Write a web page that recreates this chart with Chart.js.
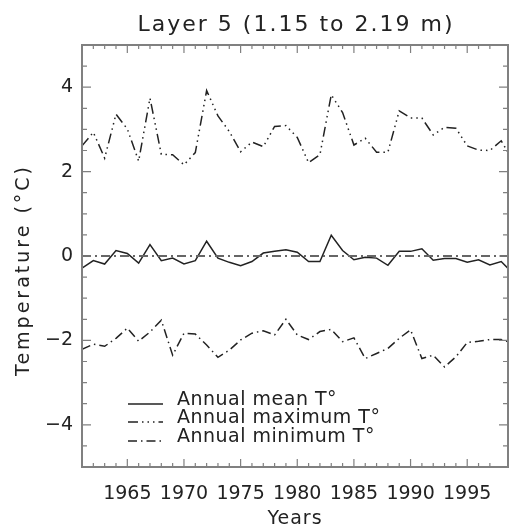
<!DOCTYPE html>
<html>
<head>
<meta charset="utf-8">
<script src="https://cdn.jsdelivr.net/npm/chart.js@4.4.1/dist/chart.umd.min.js"></script>
<style>
  html, body { margin: 0; padding: 0; background: #fff; overflow: hidden; }
</style>
</head>
<body>
<canvas id="layer-chart" width="524" height="531"></canvas>
<script>
// Série anual da camada 5
const years = [1961, 1962, 1963, 1964, 1965, 1966, 1967, 1968, 1969, 1970,
               1971, 1972, 1973, 1974, 1975, 1976, 1977, 1978, 1979, 1980,
               1981, 1982, 1983, 1984, 1985, 1986, 1987, 1988, 1989, 1990,
               1991, 1992, 1993, 1994, 1995, 1996, 1997, 1998, 1999];

const meanT = [-0.29, -0.11, -0.19, 0.13, 0.06, -0.17, 0.27, -0.11, -0.05, -0.19,
               -0.11, 0.35, -0.05, -0.15, -0.23, -0.13, 0.07, 0.11, 0.15, 0.09,
               -0.13, -0.13, 0.49, 0.13, -0.09, -0.03, -0.05, -0.22, 0.11, 0.11,
               0.17, -0.10, -0.06, -0.06, -0.15, -0.09, -0.21, -0.13, -0.40];

const maxT = [2.61, 2.93, 2.32, 3.36, 3.01, 2.25, 3.74, 2.41, 2.40, 2.16,
              2.45, 3.92, 3.32, 2.95, 2.47, 2.70, 2.59, 3.07, 3.09, 2.81,
              2.21, 2.40, 3.82, 3.40, 2.63, 2.79, 2.46, 2.46, 3.44, 3.27,
              3.27, 2.87, 3.05, 3.03, 2.61, 2.51, 2.50, 2.73, 2.27];

const minT = [-2.21, -2.09, -2.14, -1.95, -1.71, -2.02, -1.80, -1.52, -2.35, -1.83,
              -1.85, -2.11, -2.40, -2.23, -1.99, -1.83, -1.77, -1.87, -1.50, -1.87,
              -1.98, -1.79, -1.74, -2.03, -1.94, -2.43, -2.31, -2.19, -1.95, -1.75,
              -2.43, -2.35, -2.63, -2.39, -2.05, -2.02, -1.98, -1.98, -2.06];

const zeroLine = [[1961, 0], [1999, 0]];

const xRange = [1961, 1998.6];
const yRange = [-5, 5];

const FONT = 'DejaVu Sans';
const INK = '#222';
const FRAME = '#808080';

const DASH_MAX = [10, 4, 1.5, 4, 1.5, 4, 1.5, 4];
const DASH_MIN = [9, 4, 1.5, 4];
const DASH_ZERO = [9, 4, 2, 4];

function toPoints(values) {
    return years.map((yr, i) => ({ x: yr, y: values[i] }));
}

function minusLabel(v) {
    return v < 0 ? '\u2212' + Math.abs(v) : String(v);
}

// Moldura com marcas para dentro nos quatro lados
const framePlugin = {
    id: 'frame',
    afterDatasetsDraw(chart) {
        const { ctx, chartArea: a, scales } = chart;
        ctx.save();
        ctx.strokeStyle = FRAME;
        ctx.lineWidth = 2;
        ctx.strokeRect(a.left, a.top, a.right - a.left, a.bottom - a.top);
        ctx.lineWidth = 1.2;
        ctx.beginPath();
        scales.x.ticks.forEach(t => {
            if (!Number.isInteger(t.value)) return;
            const px = scales.x.getPixelForValue(t.value);
            const len = t.value % 5 === 0 ? 8 : 4;
            ctx.moveTo(px, a.bottom); ctx.lineTo(px, a.bottom - len);
            ctx.moveTo(px, a.top); ctx.lineTo(px, a.top + len);
        });
        scales.y.ticks.forEach(t => {
            const py = scales.y.getPixelForValue(t.value);
            const len = Number.isInteger(t.value) && t.value % 2 === 0 ? 9 : 5;
            ctx.moveTo(a.left, py); ctx.lineTo(a.left + len, py);
            ctx.moveTo(a.right, py); ctx.lineTo(a.right - len, py);
        });
        ctx.stroke();
        ctx.restore();
    }
};

// Título, nomes dos eixos e legenda
const textPlugin = {
    id: 'texts',
    afterDraw(chart) {
        const { ctx, chartArea: a } = chart;
        ctx.save();
        ctx.fillStyle = INK;
        ctx.textAlign = 'center';
        ctx.textBaseline = 'middle';

        ctx.font = '22px "' + FONT + '"';
        ctx.letterSpacing = '2px';
        ctx.fillText('Layer 5 (1.15 to 2.19 m)', (a.left + a.right) / 2 + 1, 25);

        ctx.font = '19px "' + FONT + '"';
        ctx.letterSpacing = '1px';
        ctx.fillText('Years', (a.left + a.right) / 2, 519);

        ctx.save();
        ctx.translate(24, 270);
        ctx.rotate(-Math.PI / 2);
        ctx.letterSpacing = '3px';
        ctx.fillText('Temperature (\u00b0C)', 0, 0);
        ctx.restore();

        const rows = [
            { label: 'Annual mean T\u00b0', dash: [], y: 405 },
            { label: 'Annual maximum T\u00b0', dash: DASH_MAX, y: 423 },
            { label: 'Annual minimum T\u00b0', dash: DASH_MIN, y: 442 }
        ];
        ctx.font = '19px "' + FONT + '"';
        ctx.letterSpacing = '0.5px';
        ctx.textAlign = 'left';
        ctx.textBaseline = 'alphabetic';
        rows.forEach(r => {
            ctx.strokeStyle = INK;
            ctx.lineWidth = 1.5;
            ctx.setLineDash(r.dash);
            ctx.beginPath();
            ctx.moveTo(128, r.y - 1);
            ctx.lineTo(163, r.y - 1);
            ctx.stroke();
            ctx.setLineDash([]);
            ctx.fillText(r.label, 177, r.y);
        });
        ctx.restore();
    }
};

const lineStyle = {
    borderColor: INK,
    borderWidth: 1.5,
    pointRadius: 0,
    tension: 0,
    fill: false,
    clip: 0
};

new Chart(document.getElementById('layer-chart'), {
    type: 'line',
    data: {
        datasets: [
            { ...lineStyle, label: 'zero', data: zeroLine.map(p => ({ x: p[0], y: p[1] })),
              borderColor: '#666', borderWidth: 1.8, borderDash: DASH_ZERO },
            { ...lineStyle, label: 'Annual mean T\u00b0', data: toPoints(meanT) },
            { ...lineStyle, label: 'Annual maximum T\u00b0', data: toPoints(maxT), borderDash: DASH_MAX },
            { ...lineStyle, label: 'Annual minimum T\u00b0', data: toPoints(minT), borderDash: DASH_MIN }
        ]
    },
    options: {
        responsive: false,
        animation: false,
        layout: { padding: { top: 45, right: 1, left: 0, bottom: 0 } },
        plugins: {
            legend: { display: false },
            tooltip: { enabled: false },
            title: { display: false }
        },
        scales: {
            x: {
                type: 'linear',
                min: xRange[0],
                max: xRange[1],
                grid: { display: false, drawTicks: false },
                border: { display: false },
                ticks: {
                    stepSize: 1,
                    autoSkip: false,
                    maxRotation: 0,
                    padding: 16,
                    color: INK,
                    font: { family: FONT, size: 19 },
                    callback: v => (Number.isInteger(v) && v % 5 === 0 ? String(v) : '')
                },
                afterFit(scale) { scale.height = 64; }
            },
            y: {
                min: yRange[0],
                max: yRange[1],
                grid: { display: false, drawTicks: false },
                border: { display: false },
                ticks: {
                    stepSize: 0.5,
                    autoSkip: false,
                    padding: 9,
                    color: INK,
                    font: { family: FONT, size: 19 },
                    callback: v => (Number.isInteger(v) && v % 2 === 0 && Math.abs(v) < 5 ? minusLabel(v) : '')
                },
                afterFit(scale) { scale.width = 82; }
            }
        }
    },
    plugins: [framePlugin, textPlugin]
});
</script>
</body>
</html>
